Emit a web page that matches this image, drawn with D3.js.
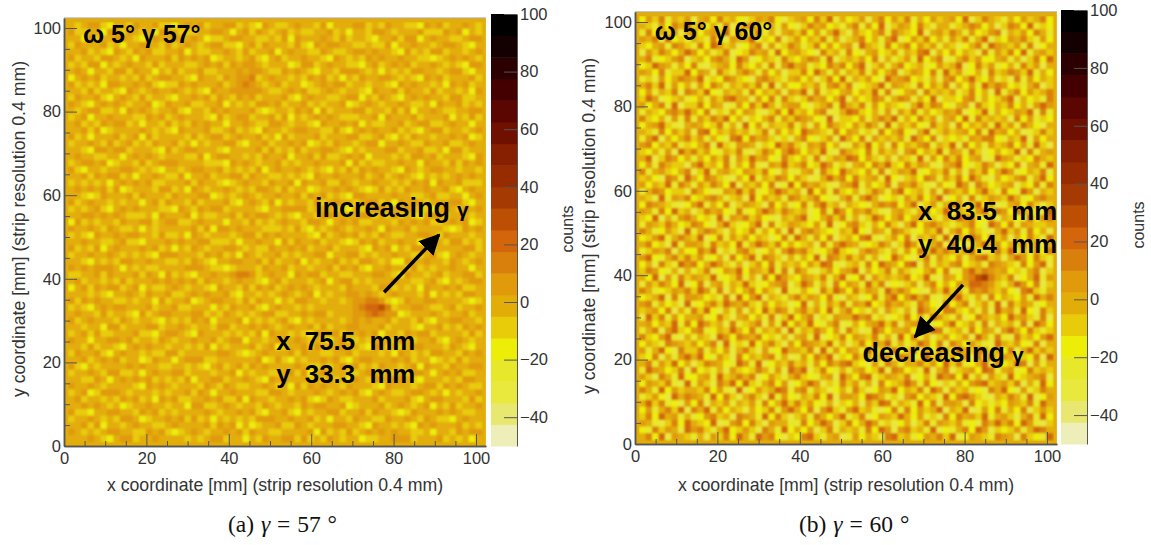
<!DOCTYPE html>
<html>
<head>
<meta charset="utf-8">
<script src="https://cdn.jsdelivr.net/npm/d3@7"></script>
<style>
  html, body { margin: 0; background: #fff; }
  svg text { font-family: "Liberation Sans", Arial, sans-serif; }
  .tick text { fill: #333; font-size: 16.5px; }
  .tick line, .domain { stroke: #555; }
  .title { fill: #333; font-size: 17.7px; }
  .note { fill: #000; font-size: 25.8px; font-weight: bold; white-space: pre; }
  .caption { font-family: "Liberation Serif", serif !important; font-size: 23.5px; fill: #111; word-spacing: 1px; }
</style>
</head>
<body>
<svg id="chart" width="1151" height="545"></svg>
<script>
// colour bar bands, bottom to top
const bandEdges = [-42.5, -35, -27.5, -20, -12.5, -5, 2.5, 10, 17.5, 25, 32.5, 40, 47.5, 55, 62.5, 70, 77.5, 85, 92.5];
const bandColors = ['#eeeeb8', '#e8e870', '#e9e83c', '#e8e82a', '#ecee08', '#e8cc0a', '#e3ad08', '#e09a0a', '#d9800c', '#d3660a',
                    '#bd4f05', '#a53a02', '#962c00', '#862000', '#701000', '#5c0600', '#440000', '#2c0000', '#140000', '#000000'];
// one count per character, the middle of each band
const levelChars = '0123456789abcdefghij';
const levelCounts = [-46, -39, -31, -24, -16, -9, -1, 6, 14, 21, 29, 36, 44, 51, 59, 66, 74, 81, 89, 96];

const xTicksMajor = [0, 20, 40, 60, 80, 100];
const xTicksMinor = [5, 10, 15, 25, 30, 35, 45, 50, 55, 65, 70, 75, 85, 90, 95];
const barTicks = [-40, -20, 0, 20, 40, 60, 80, 100];
const stripRange = [0, 102.4];
const activeRange = [1, 101.4];

// Coarse 64x64 hand-estimated counts, top row first. The single noise cells cannot be read
// from the blurred picture: these rows follow the colour mix, grain and hot spots seen in
// each panel, not the exact cell values.
const countsA = [
"65677546 65766755 46767566 77565476 55676657 46667756 57665547 67566765",
"75566476 57656476 65556677 64675765 67565566 75646657 76566675 55767465",
"66475667 76545766 76676455 67766556 57476667 65756654 66757746 76655677",
"57666756 46676657 56765677 55467576 66575476 77665565 57466766 56776546",
"66756547 65767556 67465566 76575667 46766557 65567767 66547565 77566567",
"75665776 56476667 57676745 66567546 75667665 47656576 76676655 45676765",
"56577465 67665756 66556767 57677656 66457756 76655467 56767566 76565477",
"67646657 75766465 75667556 66767765 57676546 65777656 46565776 65677546",
"46767566 56575677 66547665 76778567 66565767 56465766 77656547 67566675",
"75656477 66767545 57676667 56787656 75664567 67756656 65476766 56476756",
"66575665 47656766 76565476 67777765 56767556 76566547 66757665 75665647",
"57667546 76575665 46676757 65767566 67546766 55677465 76546767 66577556",
"76546767 65667457 66755667 46565776 75667565 66745676 56676556 47667565",
"65677556 47676566 75466576 76667545 66576747 56667756 65757466 76556677",
"56746676 66557675 67666547 56775667 57465676 76555667 47666756 66746575",
"67565767 75646657 56576766 46676557 76566547 66767465 56675677 55676646",
"66757456 66676565 47666755 67565476 65677665 57546767 66756546 77566567",
"75646667 56747566 66575677 56766756 47566675 66677556 75465766 56676745",
"56676575 67565766 75646566 77546675 66767456 57665677 46676557 66755676",
"66547767 75666547 56776665 46666757 56575667 76546566 67756675 56477566",
"67665566 46767656 66557467 76656576 67466757 55676746 66565776 75666547",
"56776745 66575677 76666555 47676566 75656676 66747565 56676647 66575767",
"75466566 77656546 65677667 56565746 76676565 46575767 66547656 77665665",
"66757677 56466765 57466756 67757665 56565476 67666756 75676546 56567676",
"56565646 76767556 66757665 45676657 66747667 55765667 66565767 47667555",
"67676757 45666577 56476566 76565776 57566456 67676545 75657667 66754676",
"66545766 67576665 76667745 65676566 76675767 56547766 66766556 75566467",
"75676656 56646757 66575666 75467657 46566575 67665677 56476765 66677546",
"56567546 76766655 47657677 56666546 67777566 65546567 76667655 46765767",
"66776767 65556476 66746556 67576776 56546657 76666775 65756546 77566656",
"47565665 76677567 75567666 46657565 67665776 46767556 66576767 55676745",
"76676576 55646566 66675747 76766655 56575465 67656676 47667566 66545767",
"56547667 67766575 56476566 65677576 76666547 56767565 76556677 65766656",
"66766556 75546667 67667755 56466766 47576675 66545767 56676646 76577565",
"75657467 66676756 46576566 77656557 66767566 75666547 67465776 56666775",
"56676676 56565477 76665767 56476566 75656677 46677565 66766556 75467656",
"66546565 77667665 56576546 67766757 56674656 67565776 56447667 66576567",
"76767776 46565566 66777655 45666576 67566566 75767546 67665756 56676646",
"55667576 66757647 56546676 67887567 66476775 66556667 76547665 67566775",
"67566565 75666767 67675766 56766546 75666567 46775656 66766556 75465677",
"46757677 56746556 76566547 66575767 56767656 66576665 77565647 66767556",
"66656546 67657667 55676766 75466565 67656746 56677676 56766657 46565776",
"75767665 56566475 66745677 66575766 46577665 66567788 75457667 76666545",
"56546767 76667566 75566646 57667546 76656566 66667899 a8566776 55675667",
"67665756 65475677 66677565 76565677 55667677 56667789 87745666 76566756",
"75676665 76566546 56576746 66746565 67546566 66567676 67566575 46677665",
"66566477 56667756 67656657 75667676 56766757 56677666 75666546 67565767",
"56757556 66755467 76547666 56565747 66565476 77566767 46657677 56666575",
"76646677 67566576 56676675 67746656 76676565 46755656 66576566 75467656",
"66575665 46767665 66565746 56667567 45667576 66766547 75656776 66576546",
"57667546 76656557 75666667 76545676 66757665 56675666 56476565 77665767",
"66756767 56645766 46777556 66666745 75465667 67546776 66767566 45657566",
"75465666 67676655 66565467 56757676 66676556 56767565 76656747 66576677",
"56676577 55646766 77566656 67465665 56757467 66655676 56565776 46767556",
"66557646 76767565 65746677 56676547 67666565 75647657 66776546 66565776",
"76676566 66547676 56665765 76556676 56475767 66576665 47666567 75767655",
"56745777 65666565 66757646 67666557 76566676 56767546 76556776 56465667",
"67566565 76756476 75566767 55747665 66767545 76556667 56667546 77666575",
"66767656 45667665 66477556 76566576 56657677 66745666 75676567 46575667",
"75546677 66576756 56666765 66767546 67546566 77566757 66545766 67676556",
"56676565 77645667 67575646 56565777 66766756 46657665 57667657 65546766",
"66757466 56766556 76666757 67464566 75576566 67766547 66565476 76667565",
"76565677 66557675 45676566 76757665 56666747 56575676 76766556 46657677",
"66676546 77566766 66565677 56646576 67757565 76566455 66777566 67565646"
];

const countsB = [
"47583657 26748564 35768425 67485936 45726847 58364756 74925865 36475684",
"65374869 57463825 78546374 25867453 68374925 76485366 35687462 58749354",
"38465726 84675937 45836267 58473695 27546838 65492675 86374578 26574863",
"76829453 65384276 69354825 74658372 56846379 24758463 75836925 47685374",
"54673875 38497562 46827358 63584746 72965384 68475736 52468397 65738246",
"27586469 74635824 58673946 75428563 84367457 36589264 74652837 58493675",
"68345782 56478639 72465385 46873925 65748263 57394682 36857446 73625849",
"45976364 83256748 54638279 67354868 47925736 84563475 69248573 46385726",
"76483559 47628536 86374625 58496373 65837468 25764839 57346285 68759364",
"35274687 69354875 42786536 74625849 36574296 78453627 84695473 52837465",
"68593746 27486365 75839264 46573785 82456937 65384758 26473968 74536825",
"47365828 75943656 38465727 69283546 74659382 46728565 73584629 36847568",
"59724563 46375896 62748385 35867469 26458736 87364925 54783645 79264538",
"74683925 58476237 48596367 74256839 65837465 42695874 36728546 58463797",
"36547869 64825374 76325849 56478236 98546372 75836457 68245936 45769283",
"85462738 37586946 25468375 87643925 54736869 36485726 74938565 62847354",
"46795326 76458362 94736558 36274865 47586293 65743856 28465739 57386426",
"65384757 28946575 63582746 49765384 76352846 84269357 56748396 74623585",
"37926468 57364289 48675352 68435729 64827565 73964825 45376884 36592746",
"78465835 46829537 76254968 53768462 37594628 46578365 92846375 68473952",
"54637296 85743658 32586479 74659328 65483756 27846593 76385246 45928367",
"69258746 36475827 59674385 46382576 98475362 65392748 58467239 76354865",
"47386552 79564836 48327695 68459735 26748695 48576326 79435862 54826739",
"83675468 25936754 76584263 36728549 65473825 76934658 36275846 97346582",
"56428739 64875326 49365874 75236968 48567394 25648737 58496326 45783694",
"74659386 37586492 65748239 48675326 79364582 76853264 39728645 67254838",
"36874552 86423769 58346975 62947385 46258637 94563728 65746953 84397265",
"65293768 45786356 29475638 75684326 83796245 37584692 46283576 59634786",
"48765324 79364825 76528463 48379562 65436878 46925736 87359462 36748525",
"76384956 25867438 34697586 56248397 47685326 75368459 26547938 74865329",
"54926378 64539276 85743265 79346858 36259746 84672536 59783462 65429378",
"37658645 87426953 46928357 65473924 78536485 26947865 35684297 48376556",
"86347529 36875264 58364729 27865436 59427638 75346592 68475326 95738462",
"45793686 59248375 74652483 96374825 64893257 48265739 36597485 72648539",
"68452937 76385649 36975846 45628379 76345862 59734682 84236957 46583726",
"35768264 48692537 85246379 78534695 42687536 37485968 65794238 59362748",
"79436858 57346284 69387526 36492875 85736249 64258375 47368956 26974853",
"46285397 84697536 25748365 64759832 56384976 48927365 78456387 65384792",
"58743626 35824769 47659382 86325746 79264583 75346848 23796876 74536825",
"64927385 76593458 36284975 47658369 34827565 68459327 6478ab86 58246937",
"37586492 48267365 95346782 59736284 76395824 35726846 47699875 36974825",
"86345768 59738264 68475293 36428597 48576396 86432759 56387865 74289536",
"45692837 76453829 47926536 85764832 65248379 47968325 79536284 65473968",
"78364529 34685976 85374652 49263758 37694586 75386429 46825739 28576346",
"56748263 85942637 26495873 68574936 84536275 36297548 85463729 67394285",
"29583746 67348526 74638259 46825376 69783524 58463975 37248656 49675382",
"67465938 49756283 56827394 75943682 36467958 26785346 94573826 56382974",
"36827954 78346596 48365729 36586472 85239746 67425983 56384762 79648535",
"85479326 36529748 76845362 67392458 47658362 94836257 45729638 32856479",
"46538765 74682935 39468527 48765936 25847693 63597482 86475329 65743826",
"73694285 58364726 85273496 65829374 76394528 45826376 39658746 48269575",
"54826379 69437528 46578362 37486925 48563672 87249563 64728395 76354829",
"68375946 25876439 73924658 56374868 95427386 36685749 58346927 45982736",
"39764582 84536275 45863729 79258436 36745928 74539268 25674983 67348565",
"75286394 46739568 68247536 85436729 64893576 58246397 84936275 39456782",
"47658329 37528694 95368472 46972538 57362845 69738425 36478956 75826394",
"86394756 65847329 24756983 78365246 38524769 46583972 75634286 94273586",
"35742968 76394852 68529374 36584927 76498635 27846539 48975326 58639247",
"69583427 48265736 57384695 85743625 46275983 65394827 76284535 47658396",
"47368592 86937465 26458379 64827953 79563248 38475692 65923748 36482575",
"58496736 34785628 76394852 57386469 35824765 96473528 48675936 75268394",
"76325849 65492378 48527663 38469725 84697352 46258376 57342869 68497325",
"43857629 78536945 75286394 64725836 56384972 78563924 36849725 45736986",
"68492765 36275849 63978425 48953672 37465289 56347685 92476538 76285439"
];

// panel settings: plot box, colour bar box and notes in data units
const panelA = {
  counts: countsA, left: 64, top: 14, bottom: 446, xUnit: 4.12, yUnit: 4.18, barLeft: 491, barWidth: 26,
  countsX: 573, countsY: 229, yTitleX: 25, yTitleY: 229, xTitleX: 275, xTitleY: 491,
  caption: ['(a) ', ' = 57 °'], captionX: 228,
  header: ['ω 5° γ 57°', 4.6, 96.5],
  notes: [['x  75.5  mm', 51.5, 23], ['y  33.3  mm', 51.5, 15.1]],
  trend: ['increasing', 60.9, 54.8],
  arrow: [77.7, 36.8, 91, 50.5]
};
const panelB = {
  counts: countsB, left: 635, top: 10, bottom: 444, xUnit: 4.12, yUnit: 4.22, barLeft: 1061, barWidth: 26,
  countsX: 1144, countsY: 225, yTitleX: 595, yTitleY: 226, xTitleX: 846, xTitleY: 491,
  caption: ['(b) ', ' = 60 °'], captionX: 799,
  header: ['ω 5° γ 60°', 4.8, 95.7],
  notes: [['x  83.5  mm', 68.7, 53.1], ['y  40.4  mm', 68.7, 45.3]],
  trend: ['decreasing', 55.2, 19.4],
  arrow: [79.6, 37.7, 68, 25.4]
};

const svg = d3.select('#chart');
const defs = svg.append('defs');
defs.append('filter').attr('id', 'soft').attr('x', 0).attr('y', 0).attr('width', 1).attr('height', 1)
    .append('feGaussianBlur').attr('stdDeviation', 0.9);
defs.append('marker').attr('id', 'head').attr('viewBox', '0 0 10 10').attr('refX', 9).attr('refY', 5)
    .attr('markerWidth', 6).attr('markerHeight', 6).attr('orient', 'auto')
    .append('path').attr('d', 'M0,0 L10,5 L0,10 Z').attr('fill', '#000');

const color = d3.scaleThreshold().domain(bandEdges).range(bandColors);

function drawPanel(p) {
  const g = svg.append('g');
  const x = d3.scaleLinear().domain(stripRange).range([p.left, p.left + stripRange[1] * p.xUnit]);
  const y = d3.scaleLinear().domain(stripRange).range([p.bottom, p.bottom - stripRange[1] * p.yUnit]);

  // the strips at the edge saw nothing, so the frame stays at the zero band
  g.append('rect').attr('x', x(0)).attr('y', y(stripRange[1]))
    .attr('width', x(stripRange[1]) - x(0)).attr('height', y(0) - y(stripRange[1]))
    .attr('fill', color(0));

  const rows = p.counts.map(r => r.replace(/ /g, '').split('').map(c => levelCounts[levelChars.indexOf(c)]));
  const cells = rows.flatMap((row, r) => row.map((v, c) => ({ r, c, v })));
  const band = d3.range(64);
  const bx = d3.scaleBand().domain(band).range([x(activeRange[0]), x(activeRange[1])]);
  const by = d3.scaleBand().domain(band).range([y(activeRange[1]), y(activeRange[0])]);
  g.append('g').attr('filter', 'url(#soft)')
    .selectAll('rect').data(cells).enter().append('rect')
    .attr('x', d => bx(d.c)).attr('y', d => by(d.r))
    .attr('width', bx.bandwidth() + 0.5).attr('height', by.bandwidth() + 0.5)
    .attr('fill', d => color(d.v));

  // axes, ticks point into the plot
  const xMajor = d3.axisBottom(x).tickValues(xTicksMajor).tickSizeInner(-12).tickSizeOuter(0).tickPadding(6);
  const xMinor = d3.axisBottom(x).tickValues(xTicksMinor).tickSizeInner(-5).tickSizeOuter(0).tickFormat('');
  const yMajor = d3.axisLeft(y).tickValues(xTicksMajor).tickSizeInner(-13).tickSizeOuter(0).tickPadding(3);
  const yMinor = d3.axisLeft(y).tickValues(xTicksMinor).tickSizeInner(-6).tickSizeOuter(0).tickFormat('');
  [xMajor, xMinor].forEach(a => g.append('g').attr('transform', `translate(0,${p.bottom})`).call(a));
  [yMajor, yMinor].forEach(a => g.append('g').attr('transform', `translate(${p.left},0)`).call(a));
  g.selectAll('.domain').attr('stroke-width', 1.5);
  g.append('line').attr('x1', x(0)).attr('x2', x(stripRange[1])).attr('y1', y(stripRange[1])).attr('y2', y(stripRange[1]))
    .attr('stroke', '#aaa');

  // colour bar
  const bar = d3.scaleLinear().domain([-50, 100]).range([p.bottom, p.top]);
  const edges = [-50, ...bandEdges, 100];
  g.append('g').selectAll('rect').data(bandColors).enter().append('rect')
    .attr('x', p.barLeft).attr('width', p.barWidth)
    .attr('y', (d, i) => bar(edges[i + 1]))
    .attr('height', (d, i) => bar(edges[i]) - bar(edges[i + 1]) + 0.5)
    .attr('fill', d => d);
  g.append('g').attr('transform', `translate(${p.barLeft + p.barWidth},0)`)
    .call(d3.axisRight(bar).tickValues(barTicks).tickSizeInner(-13).tickSizeOuter(0).tickPadding(3));

  // titles
  g.append('text').attr('class', 'title').attr('text-anchor', 'middle')
    .attr('x', p.xTitleX).attr('y', p.xTitleY).text('x coordinate [mm] (strip resolution 0.4 mm)');
  g.append('text').attr('class', 'title').attr('text-anchor', 'middle')
    .attr('transform', `translate(${p.yTitleX},${p.yTitleY}) rotate(-90)`).text('y coordinate [mm] (strip resolution 0.4 mm)');
  g.append('text').attr('class', 'title').attr('text-anchor', 'middle').style('font-size', '16px')
    .attr('transform', `translate(${p.countsX},${p.countsY}) rotate(-90)`).text('counts');

  // notes on the plot
  g.append('text').attr('class', 'note').style('font-size', '25px')
    .attr('x', x(p.header[1])).attr('y', y(p.header[2])).text(p.header[0]);
  g.selectAll('.lab').data(p.notes).enter().append('text').attr('class', 'note')
    .attr('x', d => x(d[1])).attr('y', d => y(d[2])).text(d => d[0]);
  const trend = g.append('text').attr('class', 'note').style('font-size', '27px')
    .attr('x', x(p.trend[1])).attr('y', y(p.trend[2]));
  trend.append('tspan').text(p.trend[0]);
  trend.append('tspan').attr('dx', 7).style('font-size', '21px').text('γ');
  g.append('line').attr('x1', x(p.arrow[0])).attr('y1', y(p.arrow[1])).attr('x2', x(p.arrow[2])).attr('y2', y(p.arrow[3]))
    .attr('stroke', '#000').attr('stroke-width', 3.5).attr('marker-end', 'url(#head)');

  // caption
  const cap = g.append('text').attr('class', 'caption').attr('x', p.captionX).attr('y', 532);
  cap.append('tspan').text(p.caption[0]);
  cap.append('tspan').attr('font-style', 'italic').text('γ');
  cap.append('tspan').text(p.caption[1]);
}

drawPanel(panelA);
drawPanel(panelB);
</script>
</body>
</html>
